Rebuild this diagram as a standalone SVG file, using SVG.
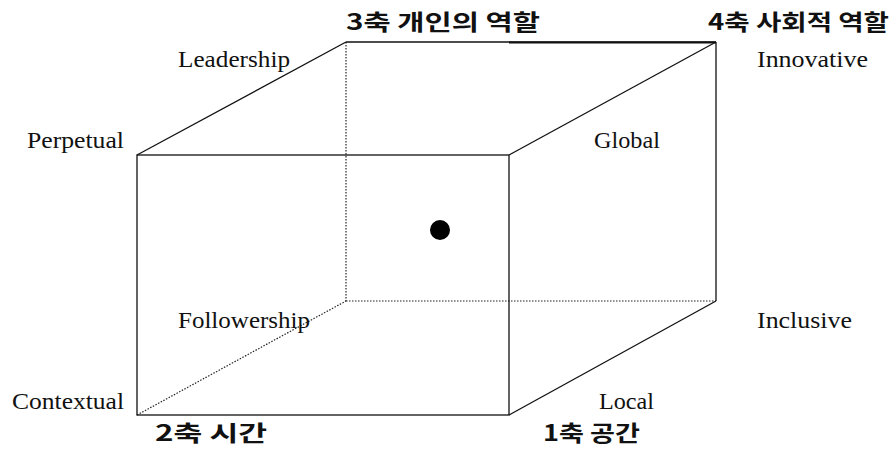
<svg xmlns="http://www.w3.org/2000/svg" width="890" height="449" viewBox="0 0 890 449">
<style>
.en{font-family:"Liberation Serif","DejaVu Serif",serif;font-size:23px;fill:#111}
.ko{font-family:"Noto Sans CJK KR","Noto Sans",sans-serif;font-size:22px;font-weight:bold;fill:#111}
.s{stroke:#111;stroke-width:1.3;fill:none}
.d{stroke:#222;stroke-width:1.2;stroke-dasharray:1.5 1.5;fill:none}
</style>
<rect width="890" height="449" fill="#fff"/>
<g id="edges">
<line class="d" x1="346" y1="42" x2="346" y2="301"/>
<line class="d" x1="346" y1="301" x2="716" y2="301"/>
<line class="d" x1="137" y1="415" x2="346" y2="301"/>
<line class="s" x1="346" y1="42" x2="716" y2="42"/>
<line stroke="#111" stroke-width="2.2" x1="509" y1="42.5" x2="716" y2="42.5"/>
<line class="s" x1="716" y1="42" x2="716" y2="301"/>
<line class="s" x1="137" y1="155" x2="346" y2="42"/>
<line class="s" x1="509" y1="155" x2="716" y2="42"/>
<line class="s" x1="509" y1="415" x2="716" y2="301"/>
<rect class="s" x="137" y="155" width="372" height="260"/>
</g>
<g id="dot"><circle cx="440" cy="230" r="10" fill="#000"/></g>
<g id="labels">
<text class="ko" x="346" y="30" textLength="194" lengthAdjust="spacingAndGlyphs">3축 개인의 역할</text>
<text class="ko" x="708" y="30" textLength="181" lengthAdjust="spacingAndGlyphs">4축 사회적 역할</text>
<text class="en" x="178" y="67" textLength="112" lengthAdjust="spacingAndGlyphs">Leadership</text>
<text class="en" x="757" y="67" textLength="111" lengthAdjust="spacingAndGlyphs">Innovative</text>
<text class="en" x="27" y="148" textLength="97" lengthAdjust="spacingAndGlyphs">Perpetual</text>
<text class="en" x="594" y="148" textLength="66" lengthAdjust="spacingAndGlyphs">Global</text>
<text class="en" x="178" y="328" textLength="132" lengthAdjust="spacingAndGlyphs">Followership</text>
<text class="en" x="757" y="328" textLength="95" lengthAdjust="spacingAndGlyphs">Inclusive</text>
<text class="en" x="12" y="409" textLength="112" lengthAdjust="spacingAndGlyphs">Contextual</text>
<text class="en" x="599" y="409" textLength="55" lengthAdjust="spacingAndGlyphs">Local</text>
<text class="ko" x="155" y="441" textLength="112" lengthAdjust="spacingAndGlyphs">2축 시간</text>
<text class="ko" x="543" y="441" textLength="97" lengthAdjust="spacingAndGlyphs">1축 공간</text>
</g>
</svg>
